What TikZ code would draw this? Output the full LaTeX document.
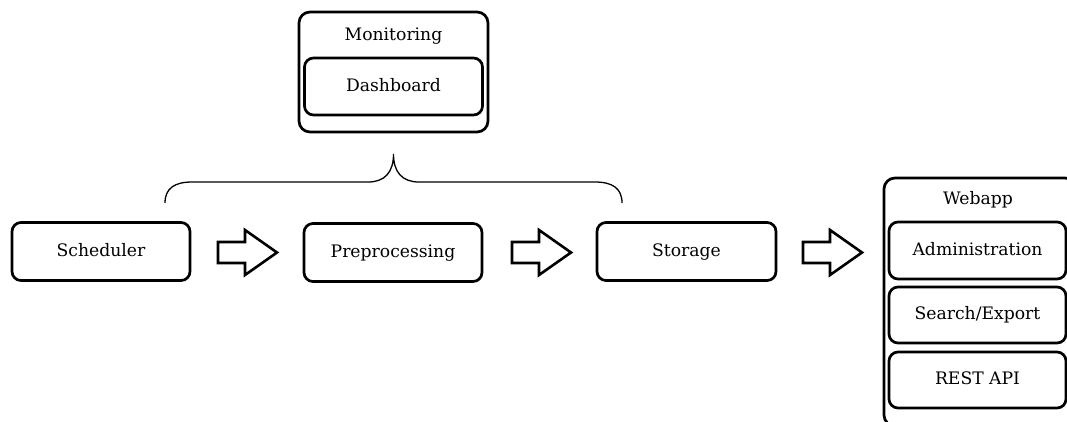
\documentclass[tikz,border=0pt]{standalone}
\usepackage{fontspec}
\setmainfont{DejaVu Serif}
\usetikzlibrary{calc}
\tikzset{
  box/.style={draw, line width=2.7pt, rounded corners=9pt, align=center,
    inner sep=0pt, text height=12.5pt, text depth=3.5pt,
    font=\fontsize{17.2}{20}\selectfont},
  holder/.style={draw, line width=2.7pt, rounded corners=11pt},
  blockarrow/.style={draw, line width=2.6pt, line join=miter, fill=white},
  brace/.style={draw, line width=1.3pt},
  lbl/.style={inner sep=0pt, text height=12.5pt, text depth=3.5pt,
    font=\fontsize{17.2}{20}\selectfont}
}
% block arrow: start x, centre y
\newcommand\fatarrow[2]{%
  \draw[blockarrow] (#1,#2-10.5) -- (#1+27,#2-10.5) -- (#1+27,#2-22.5)
    -- (#1+59,#2) -- (#1+27,#2+22.5) -- (#1+27,#2+10.5) -- (#1,#2+10.5) -- cycle;}
\begin{document}
\begin{tikzpicture}[x=1pt,y=-1pt]
\useasboundingbox (0,0) rectangle (1067,421);
\clip (0,0) rectangle (1067,421);

% Monitoring group
\node[holder, minimum width=189pt, minimum height=120pt] (mon) at (393.5,72) {};
\node[lbl] (monl) at (393.5,36) {Monitoring};
\node[box, minimum width=178pt, minimum height=57pt] (dash) at (393.5,86.5) {Dashboard};

% brace spanning the pipeline stages
\coordinate (bl) at (165,203);
\coordinate (br) at (622,203);
\coordinate (btip) at (393.5,154);
\draw[brace] (bl) .. controls (165,188) and (175,182) .. (192,182)
  -- (368,182) .. controls (385,182) and (393.5,172) .. (btip)
  .. controls (393.5,172) and (402,182) .. (419,182)
  -- (595,182) .. controls (612,182) and (622,188) .. (br);

% pipeline stages
\node[box, minimum width=178pt, minimum height=58pt] (sched) at (101,251.5) {Scheduler};
\node[box, minimum width=178pt, minimum height=58pt] (prep) at (393,252.5) {Preprocessing};
\node[box, minimum width=179pt, minimum height=58pt] (stor) at (686.5,251.5) {Storage};

\fatarrow{218}{252.5}
\fatarrow{512}{252.5}
\fatarrow{803}{252.5}

% Webapp group
\node[holder, minimum width=192pt, minimum height=248pt] (web) at (980,302) {};
\node[lbl] (webl) at (978,200) {Webapp};
\node[box, minimum width=177pt, minimum height=57pt] (admin) at (977.5,250.5) {Administration};
\node[box, minimum width=177pt, minimum height=56pt] (search) at (977.5,315) {Search/Export};
\node[box, minimum width=177pt, minimum height=56pt] (rest) at (977.5,380) {REST API};
\end{tikzpicture}
\end{document}
